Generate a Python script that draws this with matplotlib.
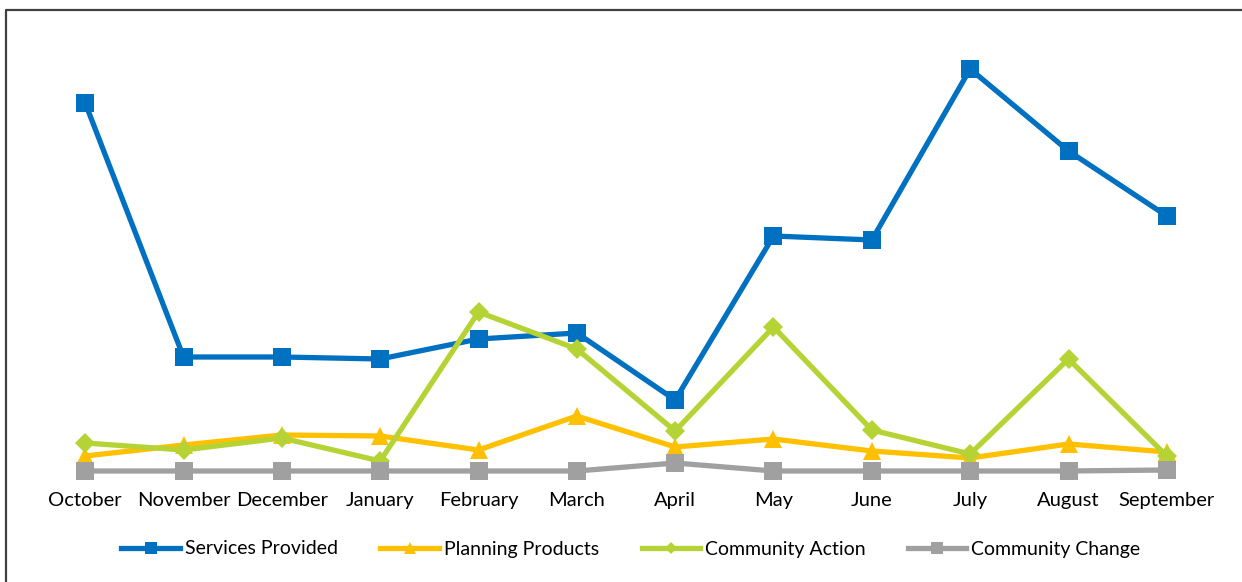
import matplotlib.pyplot as plt
from matplotlib.lines import Line2D

months = ['October', 'November', 'December', 'January', 'February', 'March',
          'April', 'May', 'June', 'July', 'August', 'September']

services_provided = [92, 28.5, 28.5, 28, 33, 34.5, 17.75, 58.75, 57.75, 100.5, 80, 63.75]
planning_products = [3.75, 6.5, 9, 8.75, 5.25, 13.75, 6, 8, 5, 3.25, 6.75, 4.75]
community_action = [7, 5.25, 8.25, 2.5, 39.75, 30.5, 10, 36, 10.25, 4.25, 28, 3.75]
community_change = [0, 0, 0, 0, 0, 0, 2, 0, 0, 0, 0, 0.25]

series = [
    ('Services Provided', services_provided, '#0070C0', 's', 13.5),
    ('Planning Products', planning_products, '#FFC000', '^', 13.5),
    ('Community Action', community_action, '#B5D334', 'D', 10.5),
    ('Community Change', community_change, '#A0A0A0', 's', 13.5),
]

plt.rcParams['font.family'] = ['Lato', 'DejaVu Sans']

fig = plt.figure(figsize=(12.42, 5.82), dpi=100)
ax = fig.add_axes([36 / 1242, 1 - 471 / 582, (1216 - 36) / 1242, (471 - 31) / 582])

x = list(range(len(months)))
for name, vals, color, marker, ms in series:
    ax.plot(x, vals, color=color, lw=3.8, marker=marker, markersize=ms,
            markeredgewidth=0, label=name, clip_on=False)

ax.set_xlim(-0.5, len(months) - 0.5)
ax.set_ylim(0, 110)
ax.set_xticks(x)
ax.set_xticklabels(months, fontsize=14.5)
ax.tick_params(axis='x', length=0, pad=15)
ax.set_yticks([])
for s in ax.spines.values():
    s.set_visible(False)

leg = fig.legend(loc='center', bbox_to_anchor=(0.508, 1 - 549 / 582), ncol=4,
                 frameon=False, fontsize=14, handlelength=3.0, handletextpad=0.25,
                 columnspacing=2.2, markerscale=0.6)

# chart border (only left and top edges visible)
fig.add_artist(Line2D([6 / 1242, 6 / 1242, 1], [0, 1 - 10 / 582, 1 - 10 / 582],
                      transform=fig.transFigure, color='#404040', lw=1.6))

fig.savefig('out.png', dpi=100)
